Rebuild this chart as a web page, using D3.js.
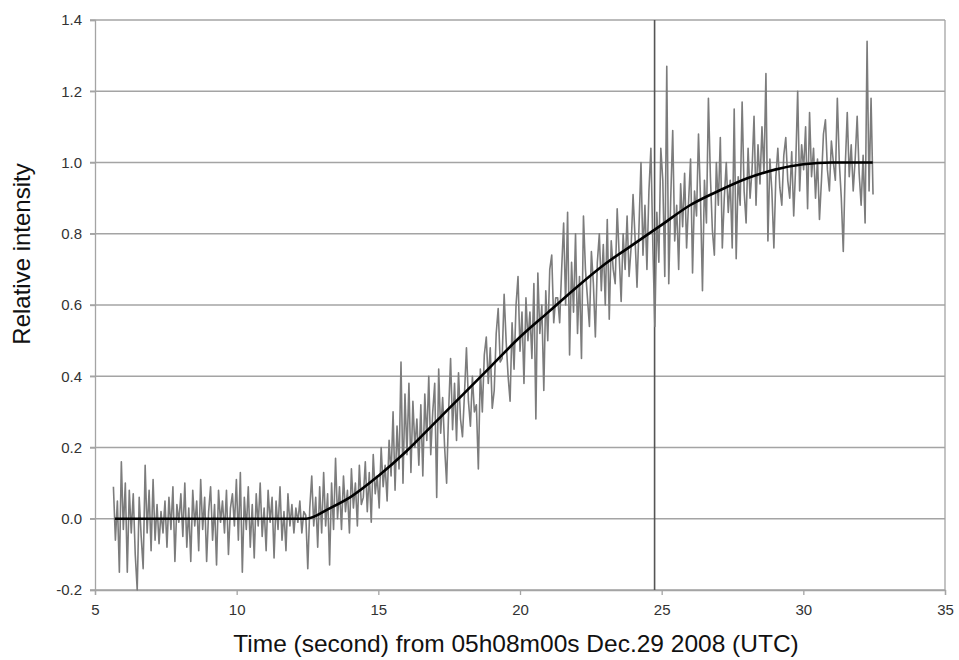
<!DOCTYPE html>
<html>
<head>
<meta charset="utf-8">
<script src="https://cdn.jsdelivr.net/npm/d3@7"></script>
<style>
  body { margin: 0; background: #fff; }
  text { font-family: "Liberation Sans", Arial, sans-serif; }
</style>
</head>
<body>
<svg id="chart" width="959" height="660"></svg>
<script>
// x und y ticks
var xTicks = [5, 10, 15, 20, 25, 30, 35];
var yTicks = [-0.2, 0.0, 0.2, 0.4, 0.6, 0.8, 1.0, 1.2, 1.4];

// measured signal, sampled every sampleStep seconds from sampleStart (values in percent)
var sampleStart = 5.65;
var sampleStep = 0.07;
var intensityPct = [
  9,-6,5,-15,16,-3,10,-15,8,-4,7,-10,-20,6,
  -5,-14,15,-4,8,-9,11,-6,4,-7,2,-4,5,-8,
  6,-3,9,-12,4,-1,7,-5,10,-8,3,-12,8,-2,
  5,-9,11,-3,6,-12,2,9,-6,4,-13,8,-1,5,
  -4,8,-10,3,7,-2,11,-6,13,-15,6,-3,9,-8,
  4,-11,7,-2,10,-5,3,-9,8,-1,6,-11,5,-3,
  9,-6,2,-9,7,-2,4,-4,3,-1,5,-4,2,1,
  -14,3,12,-2,6,-8,9,-4,13,-2,7,-13,10,-3,
  17,0,9,-3,12,2,8,-4,14,3,10,-2,15,4,
  6,16,2,13,-1,18,7,12,3,20,9,15,5,22,
  12,30,8,26,14,44,10,35,18,38,13,33,20,28,
  15,32,12,35,22,40,18,30,38,6,42,24,34,20,
  10,30,45,25,38,22,41,28,23,35,48,33,26,40,
  30,32,14,42,30,46,51,38,48,31,36,52,59,44,
  45,63,50,40,33,55,42,60,68,47,58,38,62,50,
  58,45,66,28,69,52,60,36,64,50,70,74,55,62,
  62,55,70,83,60,86,46,72,58,80,52,68,45,85,
  70,62,54,75,66,51,72,80,64,77,60,84,56,78,
  70,66,87,74,61,80,70,85,68,76,91,79,65,82,
  100,74,88,70,92,104,76,54,86,72,104,95,68,127,
  66,90,109,78,88,70,94,82,97,76,89,101,69,92,
  85,108,90,64,95,83,118,96,81,74,100,88,107,76,
  90,100,86,95,76,115,73,96,88,117,92,83,104,90,
  98,113,88,105,94,110,97,125,78,101,92,76,96,104,
  93,88,102,107,95,90,103,85,99,120,92,105,98,110,
  87,114,96,104,90,101,84,95,108,112,98,92,106,100,
  95,118,100,90,75,99,114,96,105,92,101,113,97,88,102,83,134,92,118,91
];

// fitted curve (black)
var fitTime  = [5.7, 12.45, 13.3, 14, 15, 16, 17, 18, 19, 20, 21, 22, 23, 24, 25, 26, 27, 28, 29, 30, 31, 32.45];
var fitValue = [0, 0, 0.03, 0.06, 0.12, 0.19, 0.27, 0.35, 0.43, 0.51, 0.58, 0.65, 0.715, 0.77, 0.825, 0.88, 0.92, 0.955, 0.98, 0.995, 1.0, 1.0];

// vertical marker
var markerTime = 24.75;

var xTitle = "Time (second) from 05h08m00s Dec.29 2008 (UTC)";
var yTitle = "Relative intensity";

var svg = d3.select("#chart");
var margin = {top: 20, right: 14, bottom: 70, left: 95};
var width = 959 - margin.left - margin.right;
var height = 660 - margin.top - margin.bottom;

var x = d3.scaleLinear().domain([5, 35]).range([0, width]);
var y = d3.scaleLinear().domain([-0.2, 1.4]).range([height, 0]);

var gr = svg.append("g")
    .attr("transform", "translate(" + margin.left + "," + margin.top + ")");

// grid
gr.selectAll(".grid")
    .data(yTicks)
    .enter()
    .append("line")
    .attr("class", "grid")
    .attr("x1", -5)
    .attr("x2", width)
    .attr("y1", function(d) { return y(d); })
    .attr("y2", function(d) { return y(d); })
    .attr("stroke", "#a4a4a4")
    .attr("stroke-width", 1.3);

// right border
gr.append("line")
    .attr("x1", width).attr("x2", width)
    .attr("y1", 0).attr("y2", height)
    .attr("stroke", "#a4a4a4")
    .attr("stroke-width", 1.3);

// y axis (plain hyphen for minus, like the original)
var yAxis = gr.append("g")
    .call(d3.axisLeft(y).tickValues(yTicks).tickSize(5).tickPadding(8)
          .tickFormat(function(d) { return d.toFixed(1); }));
yAxis.selectAll("path, line").attr("stroke", "#a4a4a4").attr("stroke-width", 1.3);
yAxis.selectAll("text").style("font-size", "15px").attr("fill", "#333");

// x axis
var xAxis = gr.append("g")
    .attr("transform", "translate(0," + height + ")")
    .call(d3.axisBottom(x).tickValues(xTicks).tickSize(5).tickPadding(9)
          .tickFormat(d3.format("d")));
xAxis.selectAll("path, line").attr("stroke", "#a4a4a4").attr("stroke-width", 1.3);
xAxis.selectAll("text").style("font-size", "15px").attr("fill", "#333");

// marker
gr.append("line")
    .attr("x1", x(markerTime)).attr("x2", x(markerTime))
    .attr("y1", 0).attr("y2", height)
    .attr("stroke", "#555")
    .attr("stroke-width", 1.6);

// measured series
var line = d3.line()
    .x(function(d, i) { return x(sampleStart + i * sampleStep); })
    .y(function(d) { return y(d / 100); });

gr.append("path")
    .datum(intensityPct)
    .attr("d", line)
    .attr("fill", "none")
    .attr("stroke", "#7c7c7c")
    .attr("stroke-width", 1.6)
    .attr("stroke-linejoin", "round");

// fit
var fitLine = d3.line()
    .x(function(d) { return x(d); })
    .y(function(d, i) { return y(fitValue[i]); })
    .curve(d3.curveMonotoneX);

gr.append("path")
    .datum(fitTime)
    .attr("d", fitLine)
    .attr("fill", "none")
    .attr("stroke", "#000")
    .attr("stroke-width", 2.6);

// titles
svg.append("text")
    .attr("x", margin.left + width / 2 - 4)
    .attr("y", 652)
    .attr("text-anchor", "middle")
    .style("font-size", "24.5px")
    .attr("fill", "#111")
    .text(xTitle);

svg.append("text")
    .attr("transform", "translate(30," + (margin.top + 234) + ")rotate(-90)")
    .attr("text-anchor", "middle")
    .style("font-size", "24px")
    .attr("fill", "#111")
    .text(yTitle);
</script>
</body>
</html>
